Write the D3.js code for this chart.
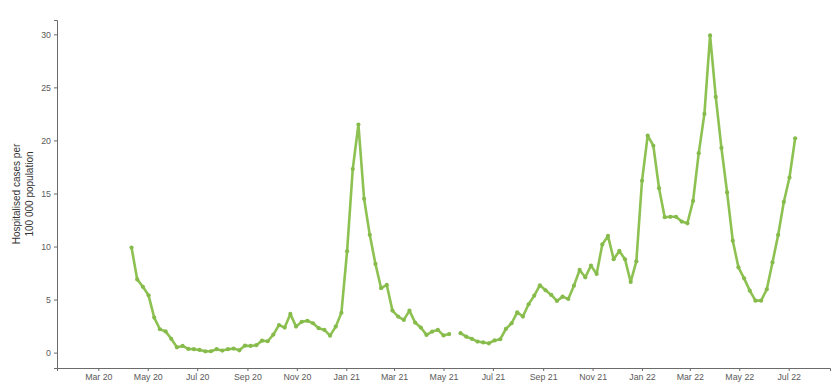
<!DOCTYPE html>
<html>
<head>
<meta charset="utf-8">
<script src="https://cdn.jsdelivr.net/npm/d3@7"></script>
<style>
  html, body { margin: 0; padding: 0; background: #fff; }
  svg { display: block; font-family: "Liberation Sans", Arial, sans-serif; }
</style>
</head>
<body>
<svg id="chart" width="832" height="388"></svg>
<script>
// Week-ending dates of the weekly series
const weeks = [
  "2020-04-11","2020-04-18","2020-04-25","2020-05-02","2020-05-09","2020-05-16","2020-05-23","2020-05-30",
  "2020-06-06","2020-06-13","2020-06-20","2020-06-27","2020-07-04","2020-07-11","2020-07-18","2020-07-25",
  "2020-08-01","2020-08-08","2020-08-15","2020-08-22","2020-08-29","2020-09-05","2020-09-12","2020-09-19",
  "2020-09-26","2020-10-03","2020-10-10","2020-10-17","2020-10-24","2020-10-31","2020-11-07","2020-11-14",
  "2020-11-21","2020-11-28","2020-12-05","2020-12-12","2020-12-19","2020-12-26","2021-01-02","2021-01-09",
  "2021-01-16","2021-01-23","2021-01-30","2021-02-06","2021-02-13","2021-02-20","2021-02-27","2021-03-06",
  "2021-03-13","2021-03-20","2021-03-27","2021-04-03","2021-04-10","2021-04-17","2021-04-24","2021-05-01",
  "2021-05-08","2021-05-15","2021-05-22","2021-05-29","2021-06-05","2021-06-12","2021-06-19","2021-06-26",
  "2021-07-03","2021-07-10","2021-07-17","2021-07-24","2021-07-31","2021-08-07","2021-08-14","2021-08-21",
  "2021-08-28","2021-09-04","2021-09-11","2021-09-18","2021-09-25","2021-10-02","2021-10-09","2021-10-16",
  "2021-10-23","2021-10-30","2021-11-06","2021-11-13","2021-11-20","2021-11-27","2021-12-04","2021-12-11",
  "2021-12-18","2021-12-25","2022-01-01","2022-01-08","2022-01-15","2022-01-22","2022-01-29","2022-02-05",
  "2022-02-12","2022-02-19","2022-02-26","2022-03-05","2022-03-12","2022-03-19","2022-03-26","2022-04-02",
  "2022-04-09","2022-04-16","2022-04-23","2022-04-30","2022-05-07","2022-05-14","2022-05-21","2022-05-28",
  "2022-06-04","2022-06-11","2022-06-18","2022-06-25","2022-07-02","2022-07-09"
];

// Hospitalised cases per 100 000 population (null = no report that week)
const hospitalised = [
  9.9, 6.9, 6.2, 5.4, 3.3, 2.2, 2.0, 1.3,
  0.5, 0.63, 0.35, 0.32, 0.25, 0.12, 0.13, 0.32,
  0.19, 0.32, 0.38, 0.22, 0.66, 0.63, 0.7, 1.13,
  1.07, 1.7, 2.6, 2.36, 3.65, 2.45, 2.9, 3.0,
  2.77, 2.3, 2.14, 1.6, 2.45, 3.75, 9.55, 17.3,
  21.5, 14.5, 11.1, 8.36, 6.07, 6.38, 3.96, 3.4,
  3.08, 3.96, 2.83, 2.36, 1.67, 1.98, 2.14, 1.62,
  1.75, null, 1.83, 1.5, 1.3, 1.04, 0.96, 0.88,
  1.15, 1.26, 2.23, 2.77, 3.8, 3.4, 4.56, 5.37,
  6.35, 5.88, 5.44, 4.87, 5.28, 5.06, 6.31, 7.79,
  7.1, 8.2, 7.42, 10.2, 11.0, 8.8, 9.58, 8.8,
  6.66, 8.6, 16.2, 20.45, 19.5, 15.5, 12.76, 12.8,
  12.8, 12.35, 12.19, 14.3, 18.8, 22.5, 29.9, 24.1,
  19.3, 15.1, 10.55, 8.04, 7.0, 5.84, 4.9, 4.9,
  5.97, 8.5, 11.09, 14.2, 16.5, 20.2
];

const yTicks = [0, 5, 10, 15, 20, 25, 30];
const xTickDates = ["2020-03-01","2020-05-01","2020-07-01","2020-09-01","2020-11-01","2021-01-01",
                    "2021-03-01","2021-05-01","2021-07-01","2021-09-01","2021-11-01","2022-01-01",
                    "2022-03-01","2022-05-01","2022-07-01"];
const axisTitle = ["Hospitalised cases per", "100 000 population"];

const parse = d3.utcParse("%Y-%m-%d");
const data = weeks.map((w, i) => ({ date: parse(w), value: hospitalised[i] }));

const svg = d3.select("#chart");
const panel = { left: 57, right: 830, top: 20, bottom: 368 };

const x = d3.scaleUtc()
  .domain([parse("2020-01-10"), parse("2022-08-21")])
  .range([panel.left, panel.right]);

const y = d3.scaleLinear()
  .domain([-1.45, 31.35])
  .range([panel.bottom, panel.top]);

const green = "#8dc152";
const axisColor = "#6b6b6b";
const textColor = "#5a5a5a";

// x axis
const xAxis = d3.axisBottom(x)
  .tickValues(xTickDates.map(parse))
  .tickFormat(d3.utcFormat("%b %y"))
  .tickSizeOuter(0)
  .tickSize(3)
  .tickPadding(3);

const gx = svg.append("g")
  .attr("transform", `translate(0,${panel.bottom})`)
  .call(xAxis);
gx.select(".domain").attr("stroke", axisColor).attr("stroke-width", 1);
gx.selectAll(".tick line").attr("stroke", axisColor);
gx.selectAll(".tick text").attr("fill", textColor).attr("font-size", 8.8);

// y axis
const yAxis = d3.axisLeft(y)
  .tickValues(yTicks)
  .tickSizeOuter(0)
  .tickSize(3)
  .tickPadding(3);

const gy = svg.append("g")
  .attr("transform", `translate(${panel.left},0)`)
  .call(yAxis);
gy.select(".domain").attr("stroke", axisColor).attr("stroke-width", 1);
gy.selectAll(".tick line").attr("stroke", axisColor);
gy.selectAll(".tick text").attr("fill", textColor).attr("font-size", 8.8);

// y axis title, two lines
const titleY = (panel.top + panel.bottom) / 2;
svg.append("text")
  .attr("transform", `translate(20,${titleY}) rotate(-90)`)
  .attr("text-anchor", "middle")
  .attr("fill", "#333")
  .attr("font-size", 10)
  .selectAll("tspan")
  .data(axisTitle)
  .join("tspan")
  .attr("x", 0)
  .attr("dy", (d, i) => i === 0 ? 0 : 12.5)
  .text(d => d);

// series line with a gap where the week is missing
const line = d3.line()
  .defined(d => d.value != null)
  .x(d => x(d.date))
  .y(d => y(d.value));

svg.append("path")
  .datum(data)
  .attr("fill", "none")
  .attr("stroke", green)
  .attr("stroke-width", 2.6)
  .attr("stroke-linejoin", "round")
  .attr("d", line);

svg.append("g")
  .selectAll("circle")
  .data(data.filter(d => d.value != null))
  .join("circle")
  .attr("cx", d => x(d.date))
  .attr("cy", d => y(d.value))
  .attr("r", 2.1)
  .attr("fill", "#86bb4c");
</script>
</body>
</html>
